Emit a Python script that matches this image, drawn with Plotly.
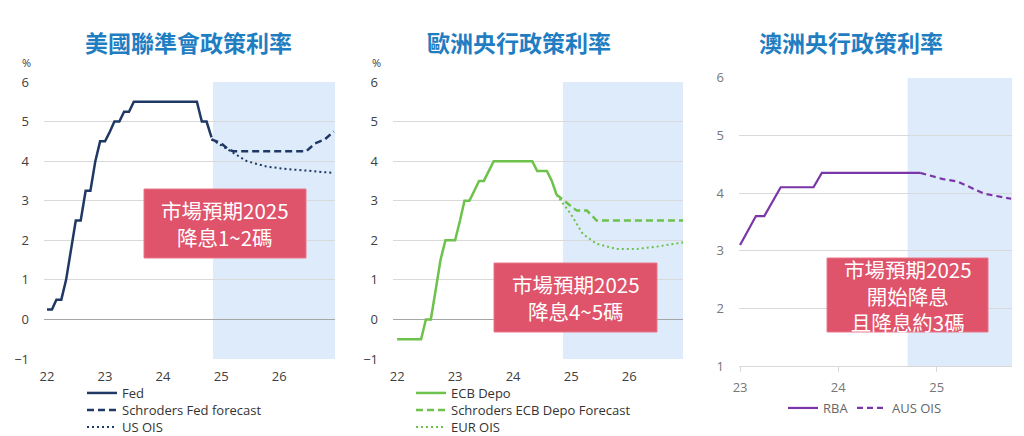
import plotly.graph_objects as go

# ---------------- data ----------------
def months(y0, m0, n):
    out = []
    y, m = y0, m0
    for _ in range(n):
        out.append(f"{y}-{m:02d}-01")
        m += 1
        if m > 12:
            m, y = 1, y + 1
    return out

fed_values = [0.25, 0.25, 0.5, 0.5, 1.0, 1.75, 2.5, 2.5, 3.25, 3.25, 4.0, 4.5,
              4.5, 4.75, 5.0, 5.0, 5.25, 5.25, 5.5, 5.5, 5.5, 5.5, 5.5, 5.5,
              5.5, 5.5, 5.5, 5.5, 5.5, 5.5, 5.5, 5.5, 5.0, 5.0, 4.6]
fed_dates = months(2022, 1, len(fed_values))
fed_fc_dates = ["2024-11-01", "2025-01-01", "2025-02-15", "2025-03-15",
                "2026-06-20", "2026-08-15", "2026-10-15", "2026-12-10"]
fed_fc_values = [4.55, 4.45, 4.3, 4.25, 4.25, 4.45, 4.55, 4.75]
us_ois_dates = ["2024-11-01", "2025-03-15", "2025-06-10", "2025-10-15",
                "2026-02-15", "2026-06-25", "2026-12-10"]
us_ois_values = [4.55, 4.22, 4.0, 3.86, 3.8, 3.76, 3.7]

ecb_values = [-0.5, -0.5, -0.5, -0.5, -0.5, -0.5, 0.0, 0.0, 0.75, 1.5, 2.0, 2.0,
              2.0, 2.5, 3.0, 3.0, 3.25, 3.5, 3.5, 3.75, 4.0, 4.0, 4.0, 4.0,
              4.0, 4.0, 4.0, 4.0, 4.0, 3.75, 3.75, 3.75, 3.5, 3.15]
ecb_dates = months(2022, 1, len(ecb_values))
ecb_fc_dates = ["2024-10-01", "2024-11-15", "2025-02-05", "2025-04-10",
                "2025-06-10", "2026-12-10"]
ecb_fc_values = [3.15, 3.0, 2.75, 2.75, 2.5, 2.5]
eur_ois_dates = ["2024-10-01", "2025-01-01", "2025-03-15", "2025-06-10",
                 "2025-10-15", "2026-02-15", "2026-06-25", "2026-12-10"]
eur_ois_values = [3.15, 2.65, 2.16, 1.91, 1.78, 1.78, 1.84, 1.95]

rba_values = [3.1, 3.35, 3.6, 3.6, 3.85, 4.1, 4.1, 4.1, 4.1, 4.1, 4.35, 4.35,
              4.35, 4.35, 4.35, 4.35, 4.35, 4.35, 4.35, 4.35, 4.35, 4.35, 4.35]
rba_dates = months(2023, 1, len(rba_values))
aus_ois_dates = ["2024-11-01", "2025-01-25", "2025-03-20", "2025-06-25", "2025-10-05"]
aus_ois_values = [4.35, 4.24, 4.2, 3.99, 3.9]

titles = ["美國聯準會政策利率", "歐洲央行政策利率", "澳洲央行政策利率"]
callouts = ["市場預期2025<br>降息1~2碼", "市場預期2025<br>降息4~5碼",
            "市場預期2025<br>開始降息<br>且降息約3碼"]
forecast_start = "2024-11-10"
forecast_start_aus = "2024-09-15"

# ---------------- style ----------------
W, H = 1024, 436
NAVY = "#1f3864"
GREEN = "#6cc24a"
PURPLE = "#7a35a8"
SHADE = "#deebfb"
GRID = "#d9d9d9"
TITLE_C = "#1f7ec2"
BOX_C = "#df536b"
LAT = "Open Sans, Noto Sans CJK TC, sans-serif"
CJK = "Noto Sans CJK TC, sans-serif"

def px(x):
    return x / W

def py(y):
    return 1 - y / H

fig = go.Figure()

def line(x, y, color, name, xa, ya, legend, dash="solid", width=2.5):
    fig.add_trace(go.Scatter(x=x, y=y, mode="lines", name=name, showlegend=True,
                             line=dict(color=color, width=width, dash=dash),
                             xaxis=xa, yaxis=ya, legend=legend))

line(fed_dates, fed_values, NAVY, "Fed", "x", "y", "legend")
line(fed_fc_dates, fed_fc_values, NAVY, "Schroders Fed forecast", "x", "y", "legend2", dash="7px,4px")
line(us_ois_dates, us_ois_values, NAVY, "US OIS", "x", "y", "legend3", dash="2px,3px", width=2)

line(ecb_dates, ecb_values, GREEN, "ECB Depo", "x2", "y2", "legend4")
line(ecb_fc_dates, ecb_fc_values, GREEN, "Schroders ECB Depo Forecast", "x2", "y2", "legend5", dash="7px,4px")
line(eur_ois_dates, eur_ois_values, GREEN, "EUR OIS", "x2", "y2", "legend6", dash="2px,3px", width=2)

line(rba_dates, rba_values, PURPLE, "RBA", "x3", "y3", "legend7", width=2.2)
line(aus_ois_dates, aus_ois_values, PURPLE, "AUS OIS", "x3", "y3", "legend8", dash="6px,4px", width=2.2)

tickfont = dict(family=LAT, size=13, color="#404040")
tickfont3 = dict(family=LAT, size=13, color="#777777")

xcommon = dict(type="date", tickformat="%y", dtick="M12", tick0="2022-01-01",
               showgrid=False, zeroline=False, ticklabelstandoff=8, fixedrange=True)
ycommon = dict(showgrid=True, gridcolor=GRID, gridwidth=1, dtick=1,
               ticklabelstandoff=14, fixedrange=True, showline=False)

x1_range = ["2021-12-13", "2026-12-18"]
x2_range = ["2021-12-06", "2026-12-06"]
x3_range = ["2022-12-28", "2025-10-08"]

def leg(x, y, color="#333333"):
    return dict(x=px(x), y=py(y), xanchor="left", yanchor="middle", orientation="v",
                font=dict(family=LAT, size=13, color=color), itemwidth=30,
                bgcolor="rgba(0,0,0,0)", borderwidth=0, visible=True)

fig.update_layout(
    width=W, height=H, margin=dict(l=0, r=0, t=0, b=0, autoexpand=False),
    paper_bgcolor="white", plot_bgcolor="rgba(0,0,0,0)", showlegend=True,
    xaxis=dict(**xcommon, domain=[px(44), px(335)], range=x1_range, anchor="y", tickfont=tickfont),
    yaxis=dict(**ycommon, domain=[py(359), py(82)], range=[-1, 6], anchor="x", tickfont=tickfont,
               zeroline=True, zerolinecolor="#a6a6a6", zerolinewidth=1),
    xaxis2=dict(**xcommon, domain=[px(393), px(683)], range=x2_range, anchor="y2", tickfont=tickfont),
    yaxis2=dict(**ycommon, domain=[py(359), py(82)], range=[-1, 6], anchor="x2", tickfont=tickfont,
                zeroline=True, zerolinecolor="#a6a6a6", zerolinewidth=1),
    xaxis3=dict(type="date", tickformat="%y", dtick="M12", tick0="2023-01-01",
                showgrid=False, zeroline=False, fixedrange=True,
                domain=[px(739), px(1012)], range=x3_range, anchor="y3", tickfont=tickfont3,
                showline=True, linecolor=GRID, linewidth=1, ticks="outside", ticklen=5,
                tickcolor=GRID, ticklabelstandoff=4),
    yaxis3=dict(**ycommon, domain=[py(366), py(77.7)], range=[1, 6], anchor="x3", tickfont=tickfont3,
                zeroline=False),
    legend=leg(82, 393),
    legend2=leg(82, 410),
    legend3=leg(82, 427),
    legend4=leg(411, 393),
    legend5=leg(411, 410),
    legend6=leg(411, 427),
    legend7=leg(783, 408, "#666666"),
    legend8=leg(852, 408, "#666666"),
    hovermode=False,
)

# forecast shading
fig.add_shape(type="rect", xref="x", yref="y", x0=forecast_start, x1=x1_range[1], y0=-1, y1=6,
              fillcolor=SHADE, line_width=0, layer="below")
fig.add_shape(type="rect", xref="x2", yref="y2", x0=forecast_start, x1=x2_range[1], y0=-1, y1=6,
              fillcolor=SHADE, line_width=0, layer="below")
fig.add_shape(type="rect", xref="x3", yref="y3", x0=forecast_start_aus, x1=x3_range[1], y0=1, y1=6,
              fillcolor=SHADE, line_width=0, layer="below")

# titles
for t, cx in zip(titles, [188, 519, 851]):
    fig.add_annotation(text=f"<b>{t}</b>", x=px(cx), y=py(42), xref="paper", yref="paper",
                       showarrow=False, xanchor="center", yanchor="middle",
                       font=dict(family=CJK, size=23, color=TITLE_C))

# % labels
for cx in [26, 376]:
    fig.add_annotation(text="%", x=px(cx), y=py(63), xref="paper", yref="paper",
                       showarrow=False, xanchor="center", yanchor="middle",
                       font=dict(family=LAT, size=11, color="#404040"))

# callout boxes
boxes = [(144, 189, 306, 258), (494, 263, 657, 332), (827, 258, 988, 332)]
for (x0, y0, x1, y1), txt in zip(boxes, callouts):
    fig.add_shape(type="rect", xref="paper", yref="paper",
                  x0=px(x0), x1=px(x1), y0=py(y1), y1=py(y0),
                  fillcolor=BOX_C, line=dict(color="#e8798a", width=1), layer="above")
    fig.add_annotation(text=txt, x=px((x0 + x1) / 2), y=py((y0 + y1) / 2),
                       xref="paper", yref="paper", showarrow=False,
                       xanchor="center", yanchor="middle", align="center",
                       font=dict(family=CJK, size=20.5, color="white"))

fig.write_html("out.html", config={"displayModeBar": False},
               post_script="document.body.style.margin='0';")
